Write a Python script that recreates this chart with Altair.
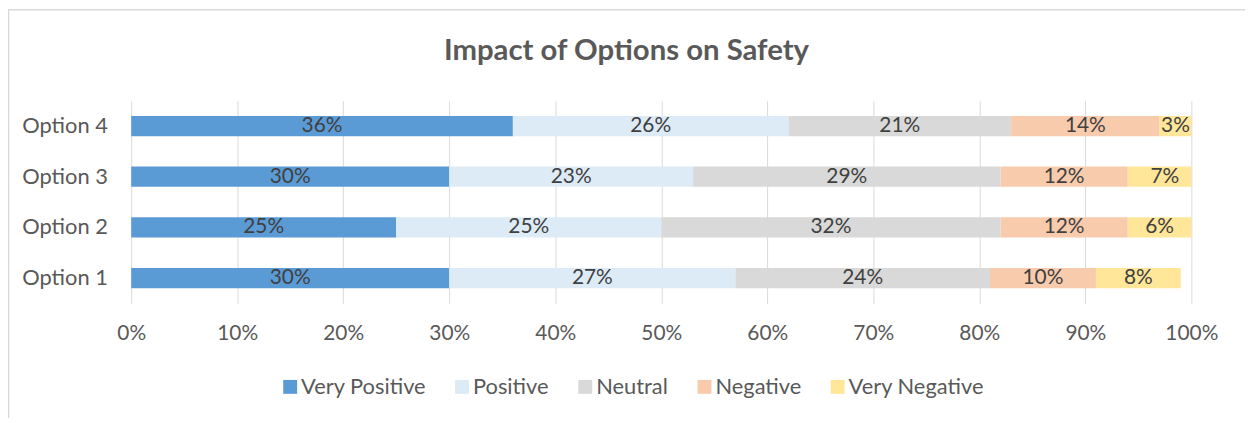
import altair as alt
import pandas as pd

options = ["Option 1", "Option 2", "Option 3", "Option 4"]
levels = ["Very Positive", "Positive", "Neutral", "Negative", "Very Negative"]
colors = ["#5B9BD5", "#DDEBF7", "#D9D9D9", "#F8CBAD", "#FFE699"]

very_positive = [30, 25, 30, 36]
positive = [27, 25, 23, 26]
neutral = [24, 32, 29, 21]
negative = [10, 12, 12, 14]
very_negative = [8, 6, 7, 3]

x_ticks = [0, 0.1, 0.2, 0.3, 0.4, 0.5, 0.6, 0.7, 0.8, 0.9, 1.0]

series = [very_positive, positive, neutral, negative, very_negative]
rows = []
for i, opt in enumerate(options):
    for k, lev in enumerate(levels):
        rows.append({"option": opt, "level": lev, "order": k, "value": series[k][i] / 100})
df = pd.DataFrame(rows)

FONT = "Lato"
W, H = 1067, 204
PAD_L, PAD_T = 124, 92

xs = alt.Scale(domain=[0, 1], clamp=True, nice=False, zero=True)
ysort = options[::-1]
ys = alt.Scale(paddingInner=0.6, paddingOuter=0.3)

base = alt.Chart(df).transform_stack(
    stack="value", as_=["start", "end"], groupby=["option"],
    sort=[alt.SortField("order", order="ascending")]
).transform_calculate(mid="(datum.start + datum.end) / 2")

bars = base.mark_bar().encode(
    x=alt.X("start:Q", scale=xs,
            axis=alt.Axis(values=x_ticks, format=".0%", title=None, grid=True,
                          gridColor="#D9D9D9", gridWidth=1, domain=False, ticks=False,
                          tickSize=0, labelPadding=19, labelFontSize=21, labelFont=FONT,
                          labelColor="#595959", labelFlush=False)),
    x2="end:Q",
    y=alt.Y("option:N", sort=ysort, scale=ys,
            axis=alt.Axis(title=None, grid=False, domain=False, ticks=False, tickSize=0,
                          labelPadding=24, labelFontSize=22, labelFont=FONT,
                          labelColor="#595959")),
    color=alt.Color("level:N", scale=alt.Scale(domain=levels, range=colors),
                    legend=alt.Legend(title=None, orient="none", direction="horizontal",
                                      legendX=149, legendY=277, symbolType="square",
                                      symbolSize=196, symbolStrokeWidth=0,
                                      labelFontSize=22, labelFont=FONT, labelColor="#595959",
                                      labelOffset=0, columnPadding=25)),
)

labels = base.mark_text(font=FONT, fontSize=21, color="#404040").encode(
    x=alt.X("mid:Q", scale=xs),
    y=alt.Y("option:N", sort=ysort, scale=ys),
    text=alt.Text("value:Q", format=".0%"),
)

frame_df = pd.DataFrame({"k": [0]})
left_frame = alt.Chart(frame_df).mark_rule(color="#D9D9D9", strokeWidth=1.5).encode(
    x=alt.value(-PAD_L + 0.5), y=alt.value(-PAD_T + 0.5), y2=alt.value(H + 200))
top_frame = alt.Chart(frame_df).mark_rule(color="#D9D9D9", strokeWidth=1.5).encode(
    x=alt.value(-PAD_L), x2=alt.value(W + 60), y=alt.value(-PAD_T + 0.5))

chart = alt.layer(bars, labels, left_frame, top_frame).properties(
    width=W, height=H,
    padding={"left": PAD_L, "top": PAD_T, "right": 54, "bottom": 114},
    autosize=alt.AutoSizeParams(type="none"),
    title=alt.TitleParams("Impact of Options on Safety", fontSize=29.5, fontWeight="bold",
                          color="#595959", font=FONT, anchor="middle", dx=-35,
                          offset=-81, baseline="alphabetic"),
).configure_view(stroke=None)

chart.save("out.html", embed_options={"renderer": "svg", "actions": False})
